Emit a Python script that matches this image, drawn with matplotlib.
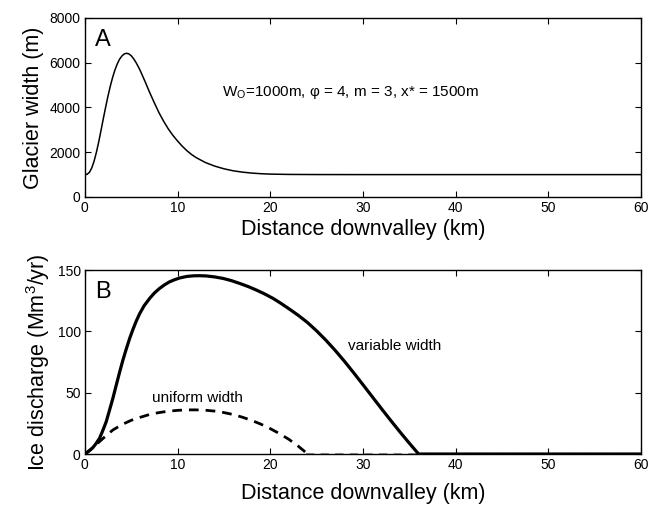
import matplotlib
matplotlib.use("Agg")
import matplotlib.pyplot as plt

plt.rcParams['font.family'] = ['Liberation Sans', 'DejaVu Sans']
plt.rcParams['mathtext.fontset'] = 'custom'
plt.rcParams['mathtext.rm'] = 'Liberation Sans'
plt.rcParams['mathtext.it'] = 'Liberation Sans'
plt.rcParams['lines.solid_joinstyle'] = 'round'

# panel A: glacier width (m) vs distance (km)
dist_w = [0, 0.25, 0.5, 0.75, 1, 1.25, 1.5, 1.75, 2, 2.25, 2.5, 2.75, 3,
          3.25, 3.5, 3.75, 4, 4.25, 4.5, 4.75, 5, 5.25, 5.5, 5.75, 6, 6.5,
          7, 7.5, 8, 8.5, 9, 9.5, 10, 10.5, 11, 11.5, 12, 13, 14, 15, 16,
          17, 18, 19, 20, 22, 25, 30, 40, 50, 60]
width = [1000, 1016, 1106, 1303, 1608, 2006, 2472, 2990, 3520, 4030, 4520,
         4960, 5350, 5680, 5950, 6160, 6300, 6390, 6420, 6390, 6310, 6180,
         6020, 5830, 5620, 5150, 4660, 4200, 3760, 3380, 3040, 2750, 2500,
         2270, 2070, 1900, 1760, 1540, 1380, 1260, 1170, 1110, 1068, 1040,
         1022, 1008, 1002, 1000, 1000, 1000, 1000]

# panel B: ice discharge (Mm3/yr)
dist_var = [0, 0.4, 0.86, 1.2, 1.58, 1.9, 2.3, 2.65, 3.02, 3.38, 3.74, 4.1,
            4.46, 4.82, 5.18, 5.55, 5.9, 6.4, 7.0, 7.5, 8.05, 8.6, 9.13,
            9.7, 10.25, 11.0, 11.7, 12.4, 13.1, 14.0, 14.9, 15.8, 16.7,
            17.6, 18.5, 19.4, 20.3, 21.2, 22.1, 23, 24, 25, 26, 27, 28, 29,
            30, 31, 32, 33, 34, 35, 36, 40, 50, 60]
q_var = [0, 2.2, 5.2, 8.5, 12.8, 18.5, 26.3, 35.5, 45.4, 56, 66.5, 76.5,
         85.5, 94, 101.5, 108.5, 114.3, 121, 127, 131.3, 135, 138, 140.4,
         142.2, 143.6, 144.8, 145.3, 145.4, 145.2, 144.4, 143.2, 141.4,
         139.1, 136.6, 133.7, 130.5, 126.9, 122.6, 118, 113.2, 107.3,
         100.4, 92.8, 84.5, 75.6, 66.2, 56.5, 46.7, 36.9, 27.3, 17.9, 8.8,
         0, 0, 0, 0]

dist_uni = [0, 0.6, 1.2, 2.0, 3.0, 4.0, 5.0, 6.0, 7.0, 8.0, 9.0, 10.0,
            11.0, 12.0, 13.0, 14.0, 15.0, 16.0, 17.0, 18.0, 19.0, 20.0,
            21.0, 22.0, 23.0, 23.8]
q_uni = [0, 3.5, 7.5, 13, 19.5, 24, 27.5, 30, 32.3, 33.8, 34.9, 35.6, 36,
         36, 35.7, 35, 33.8, 32.2, 30, 27.4, 24.3, 20.7, 16.6, 12, 6.5, 1.5]
dist_uni_zero = [23.8, 60]
q_uni_zero = [0, 0]

fig = plt.figure(figsize=(6.63, 5.11), dpi=100)
ax1 = fig.add_axes([0.128, 0.6145, 0.839, 0.3505])
ax2 = fig.add_axes([0.128, 0.1115, 0.839, 0.36])

ax1.plot(dist_w, width, color='black', lw=1.1)
ax1.set_xlim(0, 60)
ax1.set_ylim(0, 8000)
ax1.set_xticks([0, 10, 20, 30, 40, 50, 60])
ax1.set_yticks([0, 2000, 4000, 6000, 8000])
ax1.set_xlabel('Distance downvalley (km)', fontsize=15.5, labelpad=3)
ax1.set_ylabel('Glacier width (m)', fontsize=15.5, labelpad=4)
ax1.text(0.018, 0.94, 'A', transform=ax1.transAxes, fontsize=17,
         va='top', ha='left')
ax1.text(14.8, 4650, r'W$_\mathrm{O}$=1000m, φ = 4, m = 3, x* = 1500m',
         fontsize=11, va='center', ha='left')

ax2.plot(dist_uni_zero, q_uni_zero, color='0.6', lw=1.5, ls=(0, (4, 3)))
ax2.plot(dist_var, q_var, color='black', lw=2.3)
ax2.plot(dist_uni, q_uni, color='black', lw=2.0, ls=(0, (3.5, 2.5)))
ax2.set_xlim(0, 60)
ax2.set_ylim(0, 150)
ax2.set_xticks([0, 10, 20, 30, 40, 50, 60])
ax2.set_yticks([0, 50, 100, 150])
ax2.set_xlabel('Distance downvalley (km)', fontsize=15.5, labelpad=8)
ax2.set_ylabel(r'Ice discharge (Mm$^3$/yr)', fontsize=15.5, labelpad=4)
ax2.text(0.018, 0.94, 'B', transform=ax2.transAxes, fontsize=17,
         va='top', ha='left')
ax2.text(28.4, 88, 'variable width', fontsize=11, va='center', ha='left')
ax2.text(7.2, 45.6, 'uniform width', fontsize=11, va='center', ha='left')

for ax in (ax1, ax2):
    ax.tick_params(direction='in', top=True, right=True, labelsize=10,
                   length=4, width=0.8, pad=3)
    for s in ax.spines.values():
        s.set_linewidth(1.0)

fig.savefig('out.png', dpi=100)
